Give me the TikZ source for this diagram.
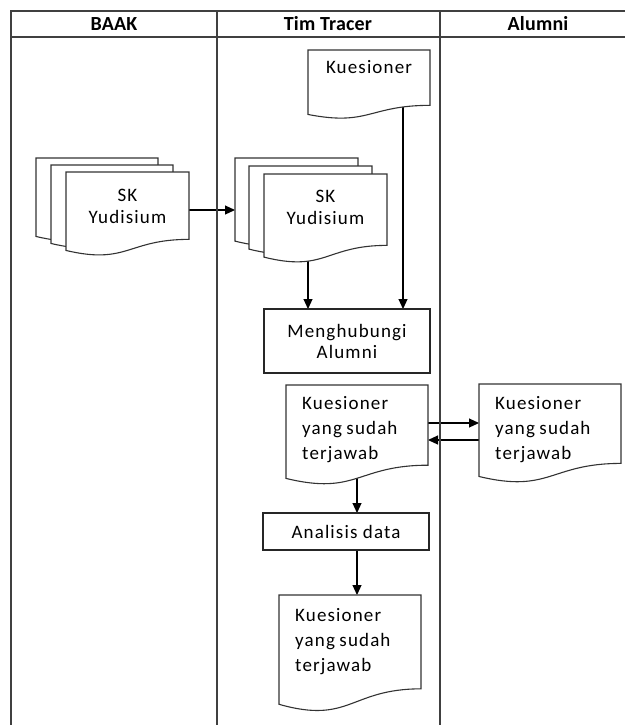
\documentclass[tikz,border=0pt]{standalone}
\usepackage{fontspec}
\setmainfont{Carlito}[LetterSpace=6]
\usetikzlibrary{arrows.meta}

\pgfdeclarelayer{wires}
\pgfsetlayers{wires,main}

% narrower word spaces for the left-aligned captions
\newcommand\tightwords{\spaceskip=4.5pt plus 1pt\relax}
% lane titles: bold, normal tracking
\newcommand\lanefont{\fontsize{20}{22}\selectfont\bfseries\addfontfeatures{LetterSpace=1}}

% document symbol: flat top, wavy bottom; #1 name, #2 left, #3 top, #4 width, #5 height
\newcommand\docsheet[5]{%
  \pgfmathsetmacro\shR{#2+#4}%
  \pgfmathsetmacro\shM{#2+0.5*#4}%
  \pgfmathsetmacro\shA{#3+0.802*#5}%
  \pgfmathsetmacro\shB{#3+1.107*#5}%
  \pgfmathsetmacro\shC{#3+0.934*#5}%
  \filldraw[sheet] (#2,#3) -- (\shR,#3) -- (\shR,\shA)
    .. controls (\shM,\shA) and (\shM,\shB) .. (#2,\shC) -- cycle;
  \node[docframe, anchor=north west, minimum width=#4pt, minimum height=#5pt] (#1) at (#2,#3) {};}

\begin{document}
\begin{tikzpicture}[x=1pt,y=-1pt,
  lane/.style={line width=1.6pt, draw=black!75},
  sheet/.style={line width=1.1pt, draw=black!80, fill=white},
  docframe/.style={inner sep=0pt, outer sep=0pt},
  box/.style={draw=black!85, line width=1.1pt, fill=white, inner sep=0pt, outer sep=0pt,
    align=center, font=\fontsize{19}{21}\selectfont},
  txt/.style={inner sep=0pt, align=center, font=\fontsize{19}{22}\selectfont},
  para/.style={inner sep=0pt, align=left, anchor=north west,
    font=\fontsize{19}{25}\selectfont\tightwords},
  lanehead/.style={inner sep=0pt, anchor=base, font=\lanefont},
  arr/.style={line width=1.1pt, -{Triangle[length=10pt,width=9pt]}}]

\useasboundingbox (0,0) rectangle (625,725);

% swimlanes
\draw[lane] (11,725) -- (11,11) -- (625,11);
\draw[lane] (11,37) -- (625,37);
\draw[lane] (217,11) -- (217,725);
\draw[lane] (440,11) -- (440,725);
\node[lanehead] (hbaak) at (114,31) {BAAK};
\node[lanehead] (htim) at (328,31) {Tim Tracer};
\node[lanehead] (halum) at (538,31) {Alumni};

% questionnaire
\docsheet{kq}{308}{50}{122}{69}
\node[txt, anchor=base] (kqt) at (369,74) {Kuesioner};

% SK Yudisium at BAAK
\docsheet{bk3}{36}{158}{122}{84}
\docsheet{bk2}{51}{165}{122}{84}
\docsheet{bk1}{66}{172}{123}{84}
\node[txt] (bkt) at (127.5,206) {SK\\Yudisium};

% SK Yudisium at Tim Tracer
\docsheet{tt3}{235}{158}{123}{89}
\docsheet{tt2}{249}{166}{123}{89}
\docsheet{tt1}{264}{174}{123}{89}
\node[txt] (ttt) at (325.5,207) {SK\\Yudisium};

\node[box, minimum width=166pt, minimum height=64pt, anchor=north west] (mh) at (264,309) {Menghubungi\\Alumni};

% answered questionnaires
\docsheet{qa}{286}{385}{142}{100}
\node[para] (qat) at (302,396) {Kuesioner\\yang sudah\\terjawab};
\docsheet{qb}{479}{384}{142}{99}
\node[para] (qbt) at (495,396) {Kuesioner\\yang sudah\\terjawab};

\node[box, minimum width=166pt, minimum height=37pt, anchor=north west] (an) at (263,513) {Analisis data};

\docsheet{qc}{279}{595}{142}{117}
\node[para] (qct) at (295,608) {Kuesioner\\yang sudah\\terjawab};

% connectors, kept behind the white-filled symbols
\begin{pgfonlayer}{wires}
\draw[arr] ([xshift=34pt]kq.center) -- ([xshift=34pt]kq.center |- mh.north);
\draw[arr] ([xshift=-17.5pt]tt1.center) -- ([xshift=-17.5pt]tt1.center |- mh.north);
\draw[arr] ([yshift=4pt]bk1.east) -- ([yshift=4pt]bk1.east -| tt3.west);
\draw[arr] ([yshift=12pt]qa.east) -- ([yshift=12pt]qa.east -| qb.west);
\draw[arr] ([yshift=-6.5pt]qb.west) -- ([yshift=-6.5pt]qb.west -| qa.east);
\draw[arr] (qa.center) -- (qa.center |- an.north);
\draw[arr] ([xshift=11pt]an.south) -- ([xshift=11pt]an.south |- qc.north);
\end{pgfonlayer}
\end{tikzpicture}
\end{document}
